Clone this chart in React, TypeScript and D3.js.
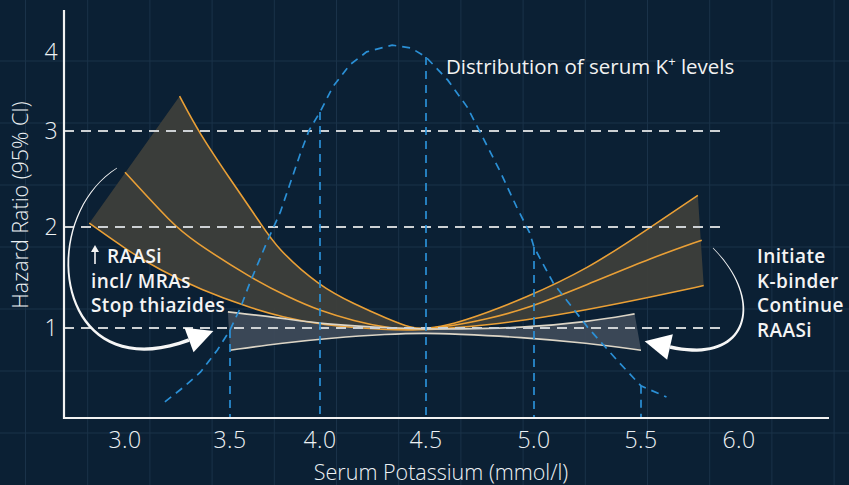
import { useEffect, useRef } from 'react';
import * as d3 from 'd3';

type Pt = [number, number];

// serum K+ (mmol/l) ticks and hazard ratio ticks
const xTicks = [3.0, 3.5, 4.0, 4.5, 5.0, 5.5, 6.0];
const yTicks = [1, 2, 3, 4];
const refLines = [1, 2, 3];
const distMarkers = [3.5, 4.0, 4.5, 5.0, 5.5];

// orange band: RAASi-treated patients, [K, HR]
const hrUpper: Pt[] = [
  [3.26, 3.44], [3.35, 2.99], [3.5, 2.5], [3.67, 2.04], [3.76, 1.79], [4.0, 1.41],
  [4.16, 1.24], [4.32, 1.09], [4.43, 1.0], [4.5, 0.99], [4.63, 1.04], [4.78, 1.15],
  [4.94, 1.28], [5.25, 1.58], [5.55, 2.0], [5.79, 2.33],
];
const hrMid: Pt[] = [
  [3.0, 2.57], [3.23, 2.02], [3.32, 1.87], [3.61, 1.5], [3.83, 1.3], [4.0, 1.17],
  [4.16, 1.07], [4.32, 1.0], [4.43, 0.98], [4.63, 1.02], [4.78, 1.09], [4.94, 1.17],
  [5.25, 1.43], [5.56, 1.7], [5.81, 1.87],
];
const hrLower: Pt[] = [
  [2.83, 2.04], [3.01, 1.77], [3.17, 1.57], [3.36, 1.38], [3.61, 1.2], [3.79, 1.11],
  [4.0, 1.03], [4.32, 0.98], [4.46, 0.98], [4.63, 1.0], [4.78, 1.03], [4.94, 1.07],
  [5.25, 1.18], [5.56, 1.31], [5.82, 1.42],
];

// grey band: reference population, [K, HR]
const refUpper: Pt[] = [
  [3.49, 1.16], [3.78, 1.1], [4.0, 1.04], [4.32, 1.0], [4.5, 0.99], [4.63, 0.99],
  [4.94, 1.0], [5.25, 1.06], [5.47, 1.14],
];
const refLower: Pt[] = [
  [3.5, 0.78], [3.78, 0.85], [4.05, 0.9], [4.32, 0.94], [4.5, 0.95], [4.63, 0.94],
  [4.94, 0.91], [5.25, 0.85], [5.5, 0.78],
];

// distribution of serum K+ (relative frequency, % of peak)
const kDist: Pt[] = [
  [3.19, 4.3], [3.28, 8.3], [3.36, 12.3], [3.44, 18.2], [3.5, 23.5], [3.56, 29.7],
  [3.61, 36.1], [3.71, 47.6], [3.78, 55.1], [3.89, 70.6], [3.94, 77.0], [4.0, 81.8],
  [4.06, 88.5], [4.14, 94.4], [4.22, 97.9], [4.34, 99.7], [4.43, 98.9], [4.5, 96.5],
  [4.6, 90.4], [4.69, 83.2], [4.75, 76.5], [4.84, 66.3], [4.92, 56.4], [4.98, 49.5],
  [5.0, 45.7], [5.09, 36.1], [5.25, 24.3], [5.4, 14.7], [5.5, 8.6], [5.63, 5.6],
];

function bezier(p: Pt[], t: number): [Pt, Pt] {
  const u = 1 - t;
  const pos: Pt = [0, 1].map(
    (i) => u * u * u * p[0][i] + 3 * u * u * t * p[1][i] + 3 * u * t * t * p[2][i] + t * t * t * p[3][i]
  ) as Pt;
  const tan: Pt = [0, 1].map(
    (i) => 3 * u * u * (p[1][i] - p[0][i]) + 6 * u * t * (p[2][i] - p[1][i]) + 3 * t * t * (p[3][i] - p[2][i])
  ) as Pt;
  return [pos, tan];
}

// curved arrow that gets thicker toward its head
function taperedArrow(p: Pt[], w0: number, w1: number) {
  const left: Pt[] = [];
  const right: Pt[] = [];
  d3.range(0, 41).forEach((i) => {
    const t = i / 40;
    const [[x, y], [dx, dy]] = bezier(p, t);
    const len = Math.hypot(dx, dy) || 1;
    const w = (w0 + (w1 - w0) * t) / 2;
    left.push([x - (dy / len) * w, y + (dx / len) * w]);
    right.push([x + (dy / len) * w, y - (dx / len) * w]);
  });
  const body = d3.line()([...left, ...right.reverse()]) + 'Z';
  const end = p[3];
  const d = [p[3][0] - p[2][0], p[3][1] - p[2][1]];
  const l = Math.hypot(d[0], d[1]);
  const ux = d[0] / l;
  const uy = d[1] / l;
  const head = [
    [end[0] + ux * 26, end[1] + uy * 26],
    [end[0] - uy * 13, end[1] + ux * 13],
    [end[0] + uy * 13, end[1] - ux * 13],
  ] as Pt[];
  return { body, head: d3.line()(head) + 'Z' };
}

export default function App() {
  const svgRef = useRef<SVGSVGElement>(null);

  useEffect(() => {
    const svg = d3.select(svgRef.current);
    svg.selectAll('*').remove();

    const W = 849;
    const H = 485;
    const x0 = 64;
    const yBase = 418;

    const x = d3.scaleLinear().domain(xTicks).range([125, 230, 320, 426, 534, 641, 739]);
    const y = d3.scaleLinear().domain(yTicks).range([328, 227, 131, 52]);
    const yDist = d3.scaleLinear().domain([0, 100]).range([yBase, 44]);

    svg.append('rect').attr('width', W).attr('height', H).attr('fill', '#0b2034');

    // faint background grid
    const grid = svg.append('g').attr('stroke', '#1a3249').attr('stroke-width', 1);
    d3.range(25.5, W, 62.2).forEach((gx) => {
      grid.append('line').attr('x1', gx).attr('x2', gx).attr('y1', 0).attr('y2', H);
    });
    d3.range(61, H, 62).forEach((gy) => {
      grid.append('line').attr('x1', 0).attr('x2', W).attr('y1', gy).attr('y2', gy);
    });

    const curve = d3
      .line<Pt>()
      .x((d) => x(d[0]))
      .y((d) => y(d[1]))
      .curve(d3.curveBasis);

    const band = (hi: Pt[], lo: Pt[]) =>
      curve(hi)! + curve([...lo].reverse())!.replace(/^M/, 'L') + 'Z';

    // bands
    svg.append('path').attr('d', band(hrUpper, hrLower)).attr('fill', '#3c3e3a').attr('opacity', 0.96);
    svg.append('path').attr('d', band(refUpper, refLower)).attr('fill', '#3d4a59').attr('opacity', 0.95);

    [hrUpper, hrMid, hrLower].forEach((s) => {
      svg.append('path').attr('d', curve(s)).attr('fill', 'none').attr('stroke', '#eaa036').attr('stroke-width', 1.6);
    });
    [refUpper, refLower].forEach((s) => {
      svg.append('path').attr('d', curve(s)).attr('fill', 'none').attr('stroke', '#dcd5c6').attr('stroke-width', 1.6);
    });

    // dashed reference lines
    svg
      .selectAll('.ref')
      .data(refLines)
      .enter()
      .append('line')
      .attr('x1', x0)
      .attr('x2', 720)
      .attr('y1', (d) => y(d))
      .attr('y2', (d) => y(d))
      .attr('stroke', '#cdd1d4')
      .attr('stroke-width', 2)
      .attr('stroke-dasharray', '10 7');

    // K+ distribution
    const blue = '#2b90d6';
    svg
      .append('path')
      .attr('d', d3.line<Pt>().x((d) => x(d[0])).y((d) => yDist(d[1]))(kDist))
      .attr('fill', 'none')
      .attr('stroke', blue)
      .attr('stroke-width', 1.7)
      .attr('stroke-dasharray', '8 6');

    const densAt = (k: number) => {
      const i = d3.bisector((d: Pt) => d[0]).left(kDist, k);
      const a = kDist[Math.max(0, i - 1)];
      const b = kDist[Math.min(kDist.length - 1, i)];
      if (b[0] === a[0]) return b[1];
      return a[1] + ((b[1] - a[1]) * (k - a[0])) / (b[0] - a[0]);
    };
    svg
      .selectAll('.marker')
      .data(distMarkers)
      .enter()
      .append('line')
      .attr('x1', (d) => x(d))
      .attr('x2', (d) => x(d))
      .attr('y1', (d) => yDist(densAt(d)))
      .attr('y2', yBase)
      .attr('stroke', blue)
      .attr('stroke-width', 1.7)
      .attr('stroke-dasharray', '8 6');

    // axes
    svg.append('line').attr('x1', x0).attr('x2', x0).attr('y1', 10).attr('y2', yBase + 1)
      .attr('stroke', '#f2f2f2').attr('stroke-width', 2.2);
    svg.append('line').attr('x1', x0 - 1).attr('x2', 829).attr('y1', yBase).attr('y2', yBase)
      .attr('stroke', '#f2f2f2').attr('stroke-width', 2.2);

    const font = "'Open Sans', sans-serif";
    const light = '#eef2f5';
    svg
      .selectAll('.xt')
      .data(xTicks)
      .enter()
      .append('text')
      .attr('x', (d) => x(d))
      .attr('y', 448)
      .attr('text-anchor', 'middle')
      .attr('font-family', font)
      .attr('font-weight', 300)
      .attr('font-size', 23)
      .attr('letter-spacing', 0.5)
      .attr('fill', light)
      .text((d) => d.toFixed(1));

    svg
      .selectAll('.yt')
      .data(yTicks)
      .enter()
      .append('text')
      .attr('x', 51)
      .attr('y', (d) => y(d))
      .attr('dy', '0.36em')
      .attr('text-anchor', 'middle')
      .attr('font-family', font)
      .attr('font-weight', 300)
      .attr('font-size', 23)
      .attr('fill', light)
      .text((d) => d);

    svg.append('text')
      .attr('x', 441).attr('y', 480).attr('text-anchor', 'middle')
      .attr('font-family', font).attr('font-weight', 300).attr('font-size', 21.5).attr('fill', light)
      .text('Serum Potassium (mmol/l)');

    svg.append('text')
      .attr('transform', 'translate(28,205) rotate(-90)').attr('text-anchor', 'middle')
      .attr('font-family', font).attr('font-weight', 300).attr('font-size', 21.5).attr('fill', light)
      .text('Hazard Ratio (95% CI)');

    const dist = svg.append('text')
      .attr('x', 446).attr('y', 74)
      .attr('font-family', font).attr('font-size', 20.5).attr('fill', '#f2f2f2');
    dist.append('tspan').text('Distribution of serum K');
    dist.append('tspan').attr('dy', -8).attr('font-size', 13).text('+');
    dist.append('tspan').attr('dy', 8).text(' levels');

    // annotations
    const note = (lines: string[], ax: number, ay: number, indentFirst: boolean) => {
      const t = svg.append('text')
        .attr('font-family', font).attr('font-weight', 600).attr('font-size', 19)
        .attr('letter-spacing', 0.4).attr('fill', '#f4f4f4');
      lines.forEach((s, i) => {
        t.append('tspan').attr('x', ax + (i === 0 && indentFirst ? 16 : 0)).attr('y', ay + i * 24.7).text(s);
      });
    };
    note(['RAASi', 'incl/ MRAs', 'Stop thiazides'], 91, 263, true);
    note(['Initiate', 'K-binder', 'Continue', 'RAASi'], 757, 263, false);

    // small up arrow before RAASi
    svg.append('line').attr('x1', 95).attr('x2', 95).attr('y1', 264).attr('y2', 250)
      .attr('stroke', '#f4f4f4').attr('stroke-width', 1.6);
    svg.append('path').attr('d', 'M91,252 L95,245 L99,252 Z').attr('fill', '#f4f4f4');

    // curved arrows
    const leftArrow = taperedArrow([[117, 168], [35, 220], [55, 390], [189, 340]], 0.6, 3.6);
    const rightArrow = taperedArrow([[713, 248], [765, 300], [750, 365], [670, 347]], 0.6, 3.6);
    [leftArrow, rightArrow].forEach((a) => {
      svg.append('path').attr('d', a.body).attr('fill', '#f6f6f6');
      svg.append('path').attr('d', a.head).attr('fill', '#ffffff');
    });
  }, []);

  return (
    <svg
      ref={svgRef}
      width={849}
      height={485}
      style={{ position: 'absolute', left: 0, top: 0, display: 'block' }}
    />
  );
}
